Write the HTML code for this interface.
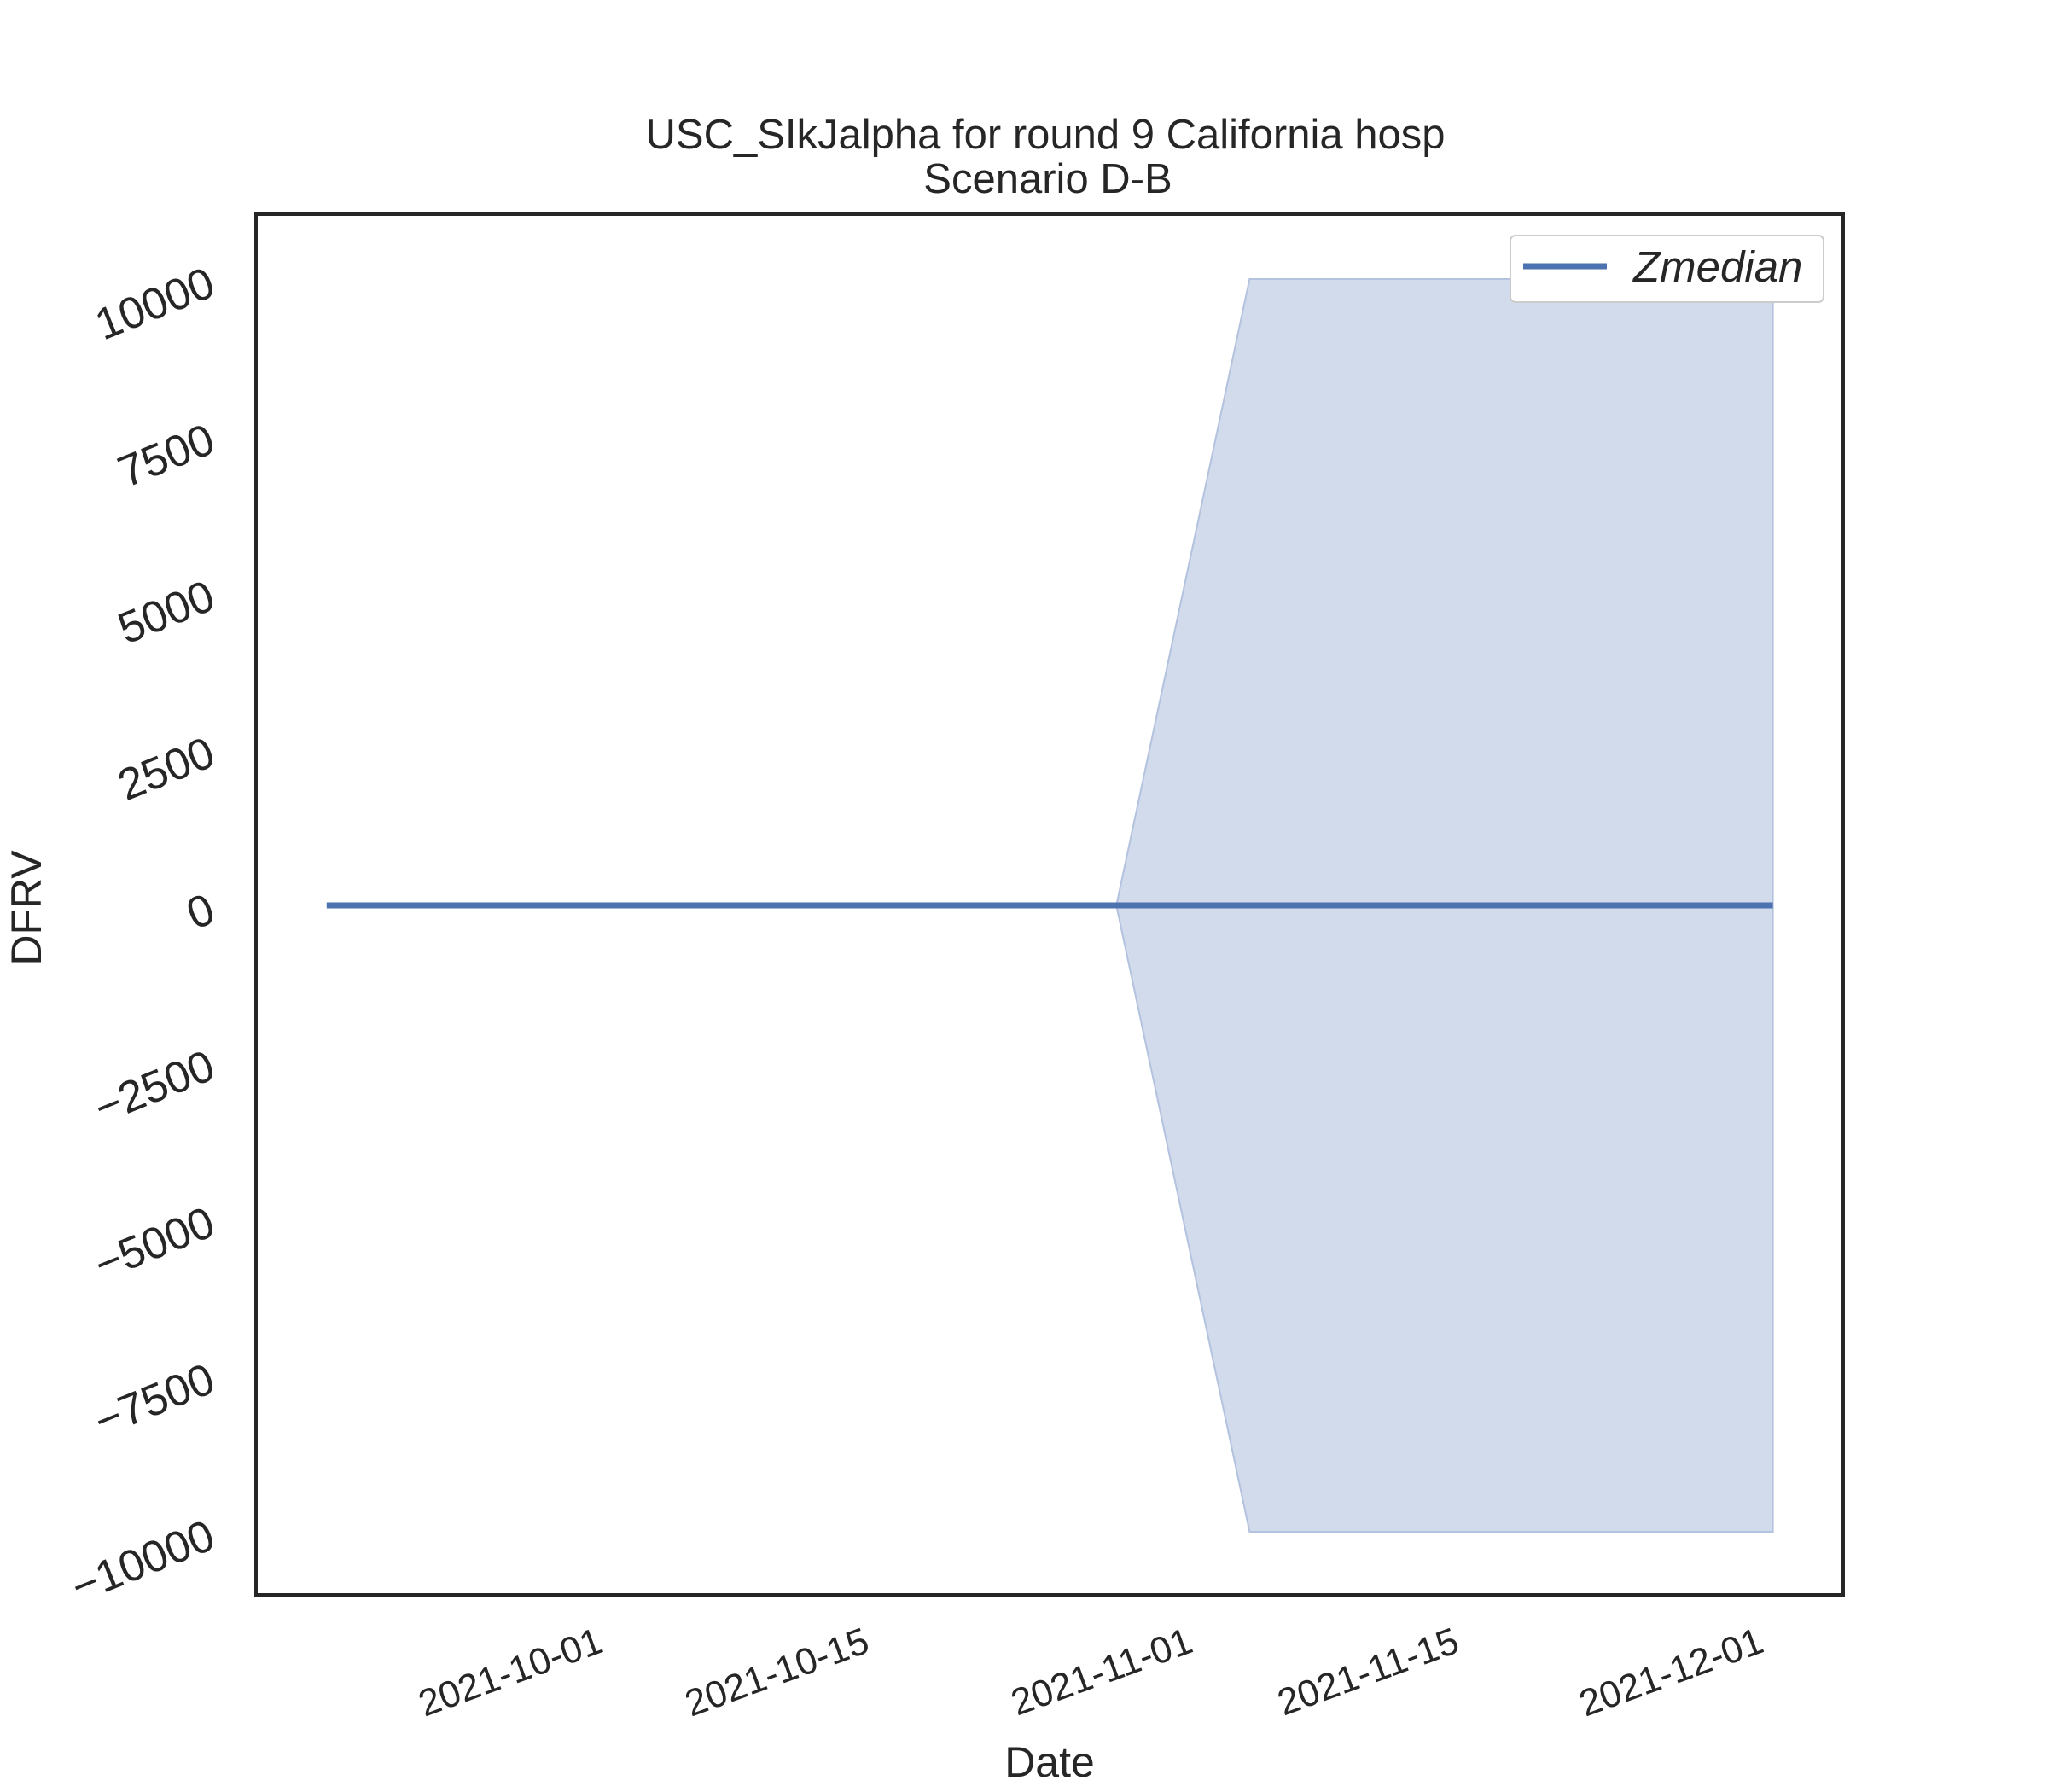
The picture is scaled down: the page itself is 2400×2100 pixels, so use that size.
<!DOCTYPE html>
<html><head><meta charset="utf-8"><style>html,body{margin:0;padding:0;background:#fff}svg{display:block}text{font-family:"Liberation Sans",sans-serif;fill:#262626}</style></head>
<body>
<svg id="chart" width="2400" height="2100" xmlns="http://www.w3.org/2000/svg">
<text x="1225" y="174" font-size="49" text-anchor="middle">USC_SIkJalpha for round 9 California hosp</text>
<text x="1228" y="226" font-size="49" text-anchor="middle">Scenario D-B</text>
<g id="plot"></g>
<rect x="300" y="251" width="1860" height="1618" fill="none" stroke="#262626" stroke-width="4"/>
<text x="1230" y="2082" font-size="50" text-anchor="middle">Date</text>
<text transform="translate(48,1064) rotate(-90)" font-size="50" text-anchor="middle">DFRV</text>
<g>
<rect x="1770" y="276" width="367" height="78" rx="6" fill="#fff" stroke="#ccc" stroke-width="2"/>
<line x1="1785" y1="312" x2="1883" y2="312" stroke="#4c72b0" stroke-width="7"/>
<text x="1914" y="330" font-size="51" font-style="italic">Zmedian</text>
</g>
</svg>
<script>
const dates=["2021-09-17T00:00:00Z","2021-10-28T12:00:00Z","2021-11-04T12:00:00Z","2021-12-02T00:00:00Z"];
const median=[0,0,0,0];
const lower=[0,0,-10000,-10000];
const upper=[0,0,10000,10000];
const yTicks=[10000,7500,5000,2500,0,-2500,-5000,-7500,-10000];
const yTickLabels=["10000","7500","5000","2500","0","\u22122500","\u22125000","\u22127500","\u221210000"];
const xTicks=["2021-10-01","2021-10-15","2021-11-01","2021-11-15","2021-12-01"];

const NS="http://www.w3.org/2000/svg";
const day0=Date.parse("2021-10-01T00:00:00Z");
function xs(d){return 695+(Date.parse(d.length===10?d+"T00:00:00Z":d)-day0)/86400000*22.3;}
function ys(v){return 1061-v*0.0734;}
const g=document.getElementById('plot');
const svg=document.getElementById('chart');
function mk(t,a){const e=document.createElementNS(NS,t);for(const k in a)e.setAttribute(k,a[k]);return e;}
let pts=dates.map((d,i)=>xs(d)+","+ys(upper[i]));
for(let i=dates.length-1;i>=0;i--)pts.push(xs(dates[i])+","+ys(lower[i]));
const band=mk('polygon',{points:pts.join(' '),fill:'#d1dbeb',stroke:'#b3c2de','stroke-width':2});


g.appendChild(band);
const line=mk('polyline',{points:dates.map((d,i)=>xs(d)+","+ys(median[i])).join(' '),fill:'none',stroke:'#4c72b0','stroke-width':7});


g.appendChild(line);
yTicks.forEach((v,i)=>{
 const y=ys(v)+18;
 const t=mk('text',{transform:`translate(255,${y}) rotate(-22)`,'font-size':52,'text-anchor':'end'});
 t.textContent=yTickLabels[i];
 
 
 svg.appendChild(t);
});
xTicks.forEach(d=>{
 const x=xs(d)+14;
 const t=mk('text',{transform:`translate(${x},1935) rotate(-20)`,'font-size':44,'text-anchor':'end'});
 t.textContent=d;
 
 
 svg.appendChild(t);
});
</script>
</body></html>
